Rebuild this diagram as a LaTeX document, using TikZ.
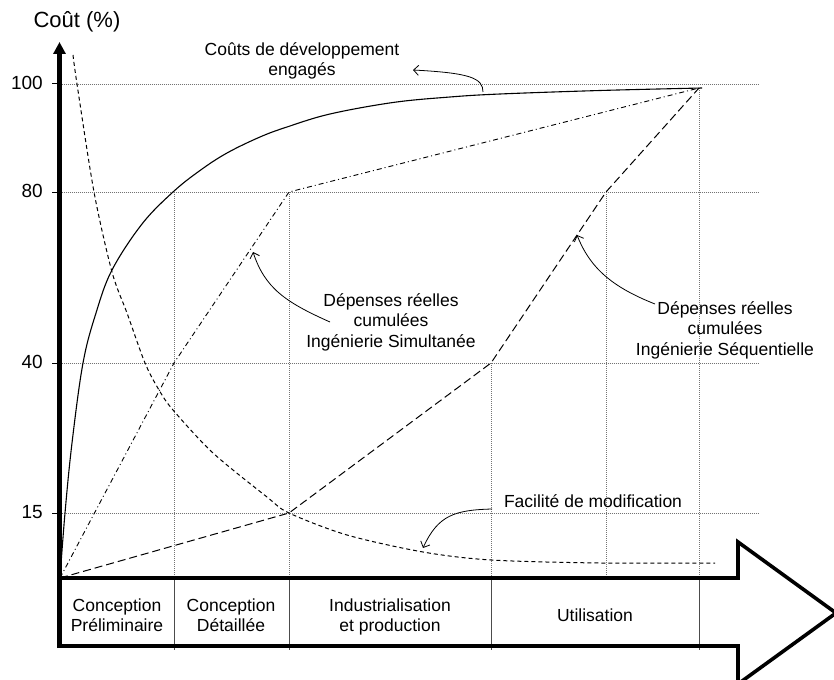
\documentclass[tikz,border=0pt]{standalone}
\usepackage{fontspec}
\setmainfont{Liberation Sans}
\usetikzlibrary{arrows.meta}
\begin{document}
\begin{tikzpicture}[x=1pt,y=-1pt,
  lbl/.style={font=\fontsize{17.5}{20.5}\selectfont, align=center, inner sep=0pt},
  ticklbl/.style={font=\fontsize{19}{22}\selectfont, anchor=east, inner sep=0pt},
  gridline/.style={black!55, line width=0.7pt, dash pattern=on 1pt off 1pt},
  divider/.style={black!70, line width=0.8pt},
  note/.style={line width=0.8pt, -{Straight Barb[length=5pt,width=10pt]}},
  engage/.style={line width=1.1pt},
  modif/.style={line width=1pt, dash pattern=on 4pt off 3pt},
  simult/.style={line width=0.9pt, dash pattern=on 5pt off 3pt on 1pt off 3pt},
  sequ/.style={line width=1pt, dash pattern=on 8pt off 4pt},
  thickline/.style={line width=3.6pt, line join=miter}
]
\useasboundingbox (0,0) rectangle (834,679);
\clip (0,0) rectangle (834,679);

% horizontal grid lines and ticks
\foreach \yy in {84,192,363,513}{
  \draw[gridline] (59.5,\yy) -- (758,\yy);
  \draw[line width=1pt] (52,\yy) -- (59.5,\yy);
}
% vertical grid lines
\draw[gridline] (174,192) -- (174,578);
\draw[gridline] (289,192) -- (289,578);
\draw[gridline] (491,363) -- (491,578);
\draw[gridline] (606,192) -- (606,578);
\draw[gridline] (699,88) -- (699,578);

% tick labels
\node[ticklbl] (t100) at (43,83) {100};
\node[ticklbl] (t80) at (43,191) {80};
\node[ticklbl] (t40) at (43,362) {40};
\node[ticklbl] (t15) at (43,512) {15};
\node[font=\fontsize{22}{26}\selectfont, inner sep=0pt] (ylab) at (77,22) {Coût (\%)};

% curves
\draw[engage] plot[smooth, tension=0.6] coordinates {(60,578) (65,513) (72,443) (83,363) (96,313) (112,270) (142,224) (173,192) (200,170.5) (227,153) (260,137) (287,127) (330,114) (393,102.5) (450,97) (500,94) (600,90.5) (702,88)};
\draw[modif] plot[smooth, tension=0.5] coordinates {(73,55) (77,84) (94,192) (112,272) (127,313) (145,363) (159,390) (173,410) (213,453) (267,497) (289,513) (347,535) (423,552) (491,560) (600,563) (715,563)};
\draw[simult] (60,578) -- (174,363) -- (289,192) -- (699,88);
\draw[sequ] (60,578) -- (289,513) -- (491,363) -- (606,192) -- (699,88);

% annotations
\node[lbl] (engLbl) at (302,61) {Coûts de développement\\engagés};
\node[lbl] (simLbl) at (391,322) {Dépenses réelles\\cumulées\\Ingénierie Simultanée};
\node[lbl] (seqLbl) at (725,330) {Dépenses réelles\\cumulées\\Ingénierie Séquentielle};
\node[lbl] (modLbl) at (593,501) {Facilité de modification};

\coordinate (engS) at (483,92);
\coordinate (engT) at (413,70);
\draw[note] (engS) .. controls (483,78) and (470,73) .. (engT);
\coordinate (simS) at (330,322);
\coordinate (simT) at (253,252);
\draw[note] (simS) .. controls (285,302) and (265,288) .. (simT);
\coordinate (seqS) at (655,304);
\coordinate (seqT) at (577,235);
\draw[note] (seqS) .. controls (612,287) and (590,268) .. (seqT);
\coordinate (modS) at (492,509);
\coordinate (modT) at (423,548);
\draw[note] (modS) .. controls (455,510) and (438,515) .. (modT);

% phase dividers
\foreach \xx in {174,289,491,699}{
  \draw[divider] (\xx,578) -- (\xx,650);
}

% big arrow (phases)
\draw[thickline] (59.5,578) -- (738,578) -- (738,542) -- (836,613) -- (738,684) -- (738,646) -- (59.5,646);

% y axis
\draw[line width=4.5pt, -{Triangle[length=12pt,width=12pt]}] (59.5,648) -- (59.5,42);

% phase labels
\node[lbl] (ph1) at (117,615) {Conception\\Préliminaire};
\node[lbl] (ph2) at (231,615) {Conception\\Détaillée};
\node[lbl] (ph3) at (390,617) {Industrialisation\\et production};
\node[lbl] (ph4) at (595,615) {Utilisation};
\end{tikzpicture}
\end{document}
